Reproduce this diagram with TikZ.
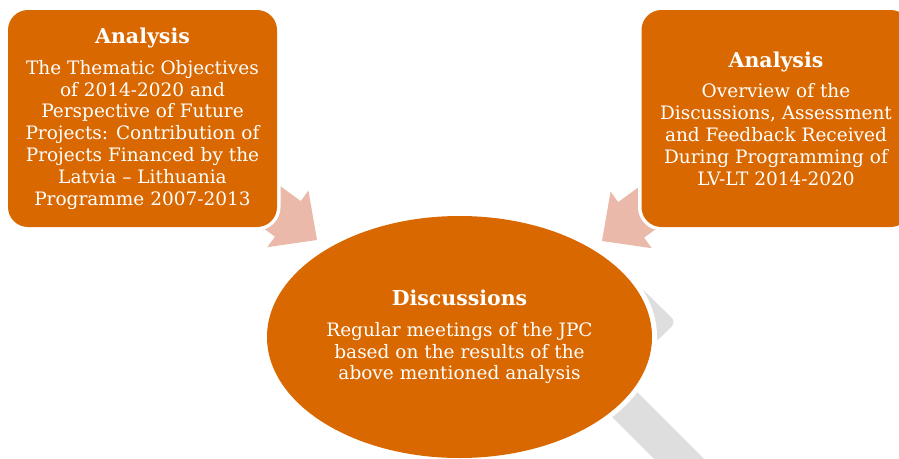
\documentclass[tikz,border=0pt]{standalone}
\usepackage{fontspec}
\setmainfont{DejaVu Serif}
\usetikzlibrary{shapes.geometric}
\definecolor{boxorange}{HTML}{D96800}
\definecolor{arrowpink}{HTML}{EBB9A9}
\definecolor{handlegray}{HTML}{DEDEDE}
\newcommand{\headline}[1]{{\fontsize{20.5}{21.8}\selectfont\bfseries #1}}
\begin{document}
\begin{tikzpicture}[x=1pt,y=-1pt,
  bodyfont/.style={font=\fontsize{18.5}{21.8}\selectfont},
  panel/.style={rectangle, rounded corners=20pt, fill=boxorange, text=white,
    align=center, inner sep=0pt, minimum width=269pt, minimum height=217pt,
    preaction={draw=white, line width=7pt}, bodyfont},
  lens/.style={ellipse, fill=boxorange, text=white, align=center, inner sep=0pt,
    minimum width=385pt, minimum height=242pt,
    preaction={draw=white, line width=10pt}, bodyfont},
  handle/.style={fill=handlegray},
  pics/feedarrow/.style={code={
    \fill[arrowpink] (0,0) -- (-36,-35) -- (-36,-22) -- (-140,-22)
      -- (-140,22) -- (-36,22) -- (-36,35) -- cycle;}}]
\useasboundingbox (0,0) rectangle (899,458);
\clip (0,0) rectangle (899,458);

% magnifier handle behind the lens
\fill[handle] (555,310) -- (770,525) -- (720,525) -- (515,320) -- cycle;
\fill[handle, rounded corners=6pt] (618,265) -- (676,322) -- (655,343) -- (600,300) -- cycle;

% central lens
\node[lens] (disc) at (459.5,337) {\headline{Discussions}\\[9pt]
  Regular meetings of the JPC\\ based on the results of the\\ above mentioned analysis};

% arrows feeding the lens
\coordinate (ltip) at (317,240);
\coordinate (rtip) at (602,241);
\pic[rotate=-36] at (ltip) {feedarrow};
\pic[rotate=-144] at (rtip) {feedarrow};

% analysis panels
\node[panel] (left) at (142.5,118.5) {\headline{Analysis}\\[9pt]
  The Thematic Objectives\\ of 2014-2020 and\\ Perspective of Future\\
  Projects: Contribution of\\ Projects Financed by the\\ Latvia – Lithuania\\
  Programme 2007-2013};
\node[panel] (right) at (776,118.5) {\headline{Analysis}\\[9pt]
  Overview of the\\ Discussions, Assessment\\ and Feedback Received\\
  During Programming of\\ LV-LT 2014-2020};
\end{tikzpicture}
\end{document}
